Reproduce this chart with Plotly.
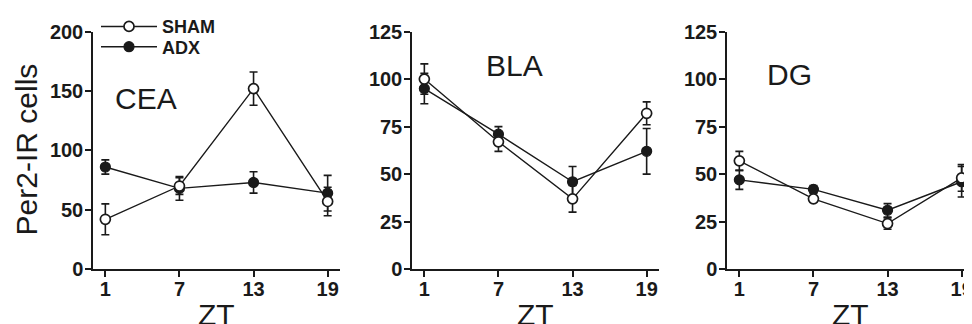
import plotly.graph_objects as go

# ---------------- data ----------------
zt = [1, 7, 13, 19]
zt_ticks = [1, 7, 13, 19]
zt_labels = ["1", "7", "13", "19"]

cea_sham = [42, 70, 152, 57]
cea_sham_err = [13, 7, 14, 12]
cea_adx = [86, 68, 73, 64]
cea_adx_err = [6, 10, 9, 15]

bla_sham = [100, 67, 37, 82]
bla_sham_err = [8, 5, 7, 6]
bla_adx = [95, 71, 46, 62]
bla_adx_err = [8, 4, 8, 12]

dg_sham = [57, 37, 24, 48]
dg_sham_err = [5, 1.5, 3, 7]
dg_adx = [47, 42, 31, 46]
dg_adx_err = [5, 2, 3.5, 8]

panel_names = ["CEA", "BLA", "DG"]
y_max = [200, 125, 125]
y_dtick = [50, 25, 25]

series = [
    (cea_sham, cea_sham_err, cea_adx, cea_adx_err),
    (bla_sham, bla_sham_err, bla_adx, bla_adx_err),
    (dg_sham, dg_sham_err, dg_adx, dg_adx_err),
]

# ---------------- layout geometry ----------------
# The page body adds an 8px offset, so figure coords = picture coords - 8
OFF = 8
W, H = 972, 324
FONT = "Arial, Liberation Sans, sans-serif"
INK = "#1a1a1a"

x_px = [(93, 340), (412, 659), (727, 974)]   # picture coords of x=0 .. x=20
y_top_px, y_bot_px = 21, 267                  # picture coords of y max .. y=0


def fx(p):
    return (p - OFF) / W


def fy(p):
    return 1 - (p - OFF) / H


fig = go.Figure()

for i, (sham, sham_e, adx, adx_e) in enumerate(series):
    xa = "x" if i == 0 else f"x{i+1}"
    ya = "y" if i == 0 else f"y{i+1}"
    fig.add_trace(go.Scatter(
        x=zt, y=adx, xaxis=xa, yaxis=ya, name="ADX", mode="lines+markers",
        line=dict(color=INK, width=1.4),
        marker=dict(symbol="circle", size=10, color=INK, line=dict(color=INK, width=1.2)),
        error_y=dict(type="data", array=adx_e, visible=True, color=INK, thickness=1.6, width=4),
        showlegend=(i == 0), legend="legend2", cliponaxis=False,
    ))
    fig.add_trace(go.Scatter(
        x=zt, y=sham, xaxis=xa, yaxis=ya, name="SHAM", mode="lines+markers",
        line=dict(color=INK, width=1.4),
        marker=dict(symbol="circle", size=10, color="white", line=dict(color=INK, width=1.7)),
        error_y=dict(type="data", array=sham_e, visible=True, color=INK, thickness=1.6, width=4),
        showlegend=(i == 0), legend="legend", cliponaxis=False,
    ))

layout = {}
for i in range(3):
    x0, x1 = x_px[i]
    xkey = "xaxis" if i == 0 else f"xaxis{i+1}"
    ykey = "yaxis" if i == 0 else f"yaxis{i+1}"
    xname = "x" if i == 0 else f"x{i+1}"
    layout[xkey] = dict(
        domain=[fx(x0), fx(x1)],
        range=[0, 20],
        anchor="y" if i == 0 else f"y{i+1}",
        tickvals=zt_ticks, ticktext=zt_labels,
        showline=True, linecolor=INK, linewidth=1.5,
        ticks="outside", ticklen=6, tickwidth=1.5, tickcolor=INK,
        ticklabelstandoff=-5,
        showgrid=False, zeroline=False, automargin=False,
        tickfont=dict(family=FONT, size=20, color=INK, weight="bold"),
    )
    layout[ykey] = dict(
        domain=[fy(y_bot_px), fy(y_top_px)],
        range=[0, y_max[i]], dtick=y_dtick[i],
        anchor=xname,
        showline=True, linecolor=INK, linewidth=1.5,
        ticks="outside", ticklen=6, tickwidth=1.5, tickcolor=INK,
        ticklabelstandoff=-2,
        showgrid=False, zeroline=False, automargin=False,
        tickfont=dict(family=FONT, size=20, color=INK, weight="bold"),
    )

legend_style = dict(
    xanchor="left", yanchor="middle",
    bgcolor="rgba(0,0,0,0)", borderwidth=0,
    font=dict(family=FONT, size=18, color=INK, weight="bold"),
    itemwidth=56,
)

fig.update_layout(
    template="none",
    width=W, height=H,
    margin=dict(l=0, r=0, t=0, b=0, pad=0),
    paper_bgcolor="white", plot_bgcolor="white",
    font=dict(family=FONT, color=INK),
    showlegend=True,
    legend=dict(x=fx(96), y=fy(16), **legend_style),
    legend2=dict(x=fx(96), y=fy(37), **legend_style),
    **layout,
)

# panel labels
label_pos = [(4.3, 144, "x", "y"), (8.3, 107, "x2", "y2"), (5.1, 102.5, "x3", "y3")]
for name, (lx, ly, xr, yr) in zip(panel_names, label_pos):
    fig.add_annotation(x=lx, y=ly, xref=xr, yref=yr, text=name, showarrow=False,
                       font=dict(family=FONT, size=30, color=INK),
                       xanchor="center", yanchor="middle")

# x-axis titles
for i in range(3):
    x0, x1 = x_px[i]
    cx = (x0 + x1) / 2.0
    fig.add_annotation(x=fx(cx), y=fy(314), xref="paper", yref="paper", text="ZT",
                       showarrow=False, font=dict(family=FONT, size=30, color=INK),
                       xanchor="center", yanchor="middle")

# y-axis title
fig.add_annotation(x=fx(26), y=fy(143), xref="paper", yref="paper", text="Per2-IR cells",
                   textangle=-90, showarrow=False,
                   font=dict(family=FONT, size=30, color=INK),
                   xanchor="center", yanchor="middle")

fig.write_html("out.html")
